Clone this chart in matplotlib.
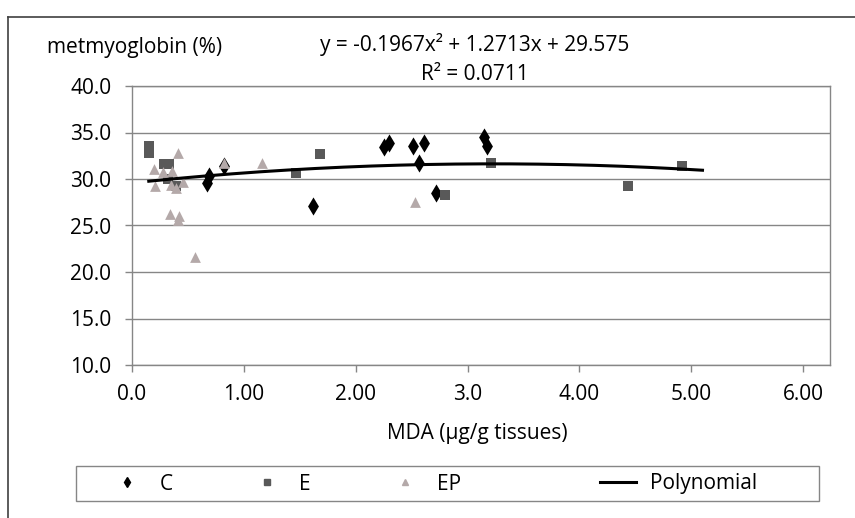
import numpy as np
import matplotlib
matplotlib.use("Agg")
import matplotlib.pyplot as plt
from matplotlib.lines import Line2D
from matplotlib.patches import Rectangle

# MDA (ug/g tissues) vs metmyoglobin (%)
c_x = [0.67, 0.69, 0.82, 1.62, 2.25, 2.30, 2.51, 2.57, 2.61, 2.72, 3.15, 3.17]
c_y = [29.6, 30.35, 31.4, 27.1, 33.4, 33.9, 33.5, 31.7, 33.9, 28.5, 34.5, 33.6]

e_x = [0.15, 0.15, 0.29, 0.335, 0.32, 0.39, 1.47, 1.68, 2.80, 3.21, 4.43, 4.92]
e_y = [33.5, 32.8, 31.6, 31.6, 30.0, 29.2, 30.6, 32.7, 28.3, 31.7, 29.2, 31.4]

ep_x = [0.195, 0.21, 0.275, 0.36, 0.35, 0.39, 0.415, 0.455, 0.34, 0.42,
        0.41, 0.56, 0.82, 1.16, 2.53]
ep_y = [31.1, 29.2, 30.8, 30.9, 29.4, 29.0, 32.8, 29.7, 26.2, 26.0,
        25.6, 21.6, 31.7, 31.7, 27.5]

# trendline coefficients as printed on the chart
poly_coef = [-0.1967, 1.2713, 29.575]
poly_range = [0.15, 5.1]

x_ticks = [0, 1, 2, 3, 4, 5, 6]
x_tick_labels = ["0.0", "1.00", "2.00", "3.0", "4.00", "5.00", "6.00"]
y_ticks = [10, 15, 20, 25, 30, 35, 40]
y_tick_labels = ["10.0", "15.0", "20.0", "25.0", "30.0", "35.0", "40.0"]

plt.rcParams['font.family'] = ['Open Sans', 'DejaVu Sans']
fs = 15

fig = plt.figure(figsize=(8.55, 5.18), dpi=100)
ax = fig.add_axes([132 / 855, 1 - 365 / 518, (830 - 132) / 855, (365 - 86) / 518])

grid_col = '#868686'
ax.scatter(c_x, c_y, marker='d', s=85, color='black', zorder=3, linewidths=0)
ax.scatter(e_x, e_y, marker='s', s=45, color='#595959', zorder=3, linewidths=0)
ax.scatter(ep_x, ep_y, marker='^', s=60, color='#b4a9a9', zorder=4, linewidths=0)

xs = np.linspace(poly_range[0], poly_range[1], 200)
ax.plot(xs, np.polyval(poly_coef, xs), color='black', linewidth=2.2, zorder=5)

ax.set_xlim(0, 6.24)
ax.set_ylim(10, 40)
ax.set_xticks(x_ticks)
ax.set_xticklabels(x_tick_labels)
ax.set_yticks(y_ticks)
ax.set_yticklabels(y_tick_labels)
ax.tick_params(axis='both', labelsize=fs, color=grid_col, length=5, width=1)
ax.tick_params(axis='x', pad=9)
ax.tick_params(axis='y', pad=10)
ax.yaxis.grid(True, color=grid_col, linewidth=1)
ax.set_axisbelow(True)
for sp in ax.spines.values():
    sp.set_color(grid_col)
    sp.set_linewidth(1)

fig.text(47 / 855, 1 - 48 / 518, 'metmyoglobin (%)', fontsize=fs, va='center', ha='left')
fig.text(475 / 855, 1 - 45 / 518, 'y = -0.1967x² + 1.2713x + 29.575', fontsize=fs,
         va='center', ha='center')
fig.text(475 / 855, 1 - 75 / 518, 'R² = 0.0711', fontsize=fs, va='center', ha='center')
fig.text(477 / 855, 1 - 433 / 518, 'MDA (µg/g tissues)', fontsize=fs, va='center', ha='center')

# outer chart frame
fig.add_artist(Line2D([8 / 855, 8 / 855], [0, 1 - 17 / 518], color='#404040', linewidth=1.2))
fig.add_artist(Line2D([8 / 855, 1], [1 - 17 / 518, 1 - 17 / 518], color='#404040', linewidth=1.2))

# legend box
fig.add_artist(Rectangle((76 / 855, 1 - 501 / 518), (819 - 76) / 855, 35 / 518,
                         fill=False, edgecolor=grid_col, linewidth=1))
marker_handles = [
    Line2D([], [], marker='d', color='black', linestyle='none', markersize=5),
    Line2D([], [], marker='s', color='#595959', linestyle='none', markersize=4),
    Line2D([], [], marker='^', color='#b4a9a9', linestyle='none', markersize=4.5),
]
line_handle = [Line2D([], [], color='black', linewidth=2.2)]
legend_kw = dict(frameon=False, fontsize=fs, loc='center left',
                 handlelength=1.75, handletextpad=0.67,
                 borderaxespad=0, borderpad=0)
fig.legend(marker_handles, ['C', 'E', 'EP'], ncol=3, columnspacing=3.65,
           bbox_to_anchor=(109 / 855, 1 - 484 / 518), **legend_kw)
fig.legend(line_handle, ['Polynomial'], ncol=1,
           bbox_to_anchor=(600 / 855, 1 - 484 / 518), **legend_kw)

fig.savefig('out.png', dpi=100)
